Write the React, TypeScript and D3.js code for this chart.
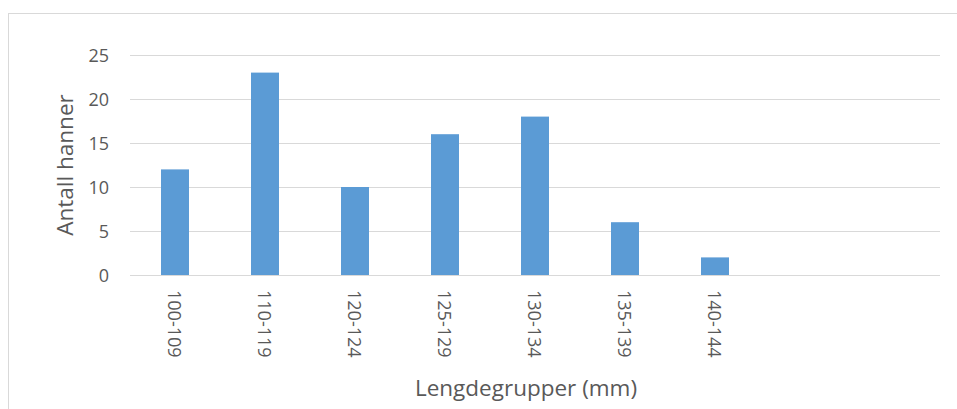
import React from "react";
import * as d3 from "d3";

const categories: string[] = ["100-109", "110-119", "120-124", "125-129", "130-134", "135-139", "140-144", "", ""];
const values: (number | null)[] = [12, 23, 10, 16, 18, 6, 2, null, null];
const yTicks: number[] = [0, 5, 10, 15, 20, 25];
const yTitle = "Antall hanner";
const xTitle = "Lengdegrupper (mm)";

const W = 957;
const H = 409;
const FONT = "'Open Sans', sans-serif";
const TEXT = "#595959";
const GRID = "#D9D9D9";
const BAR = "#5B9BD5";

export default function App() {
  const left = 130, right = 940, top = 55, bottom = 275;
  const pad = 62 / 90;
  const x = d3
    .scaleBand<number>()
    .domain(d3.range(categories.length))
    .range([left, right])
    .paddingInner(pad)
    .paddingOuter(pad / 2);
  const y = d3.scaleLinear().domain([0, 25]).range([bottom, top]);

  return (
    <svg
      width={W}
      height={H}
      style={{ position: "absolute", left: 0, top: 0, background: "#fff" }}
      fontFamily={FONT}
    >
      <rect x={8.5} y={13.5} width={970} height={420} fill="#fff" stroke={GRID} strokeWidth={1} />
      {yTicks.map((t) => (
        <g key={t}>
          <line x1={left} x2={right} y1={Math.round(y(t)) + 0.5} y2={Math.round(y(t)) + 0.5} stroke={GRID} strokeWidth={1} />
          <text x={109} y={y(t)} textAnchor="end" dominantBaseline="central" fontSize={18} fill={TEXT}>
            {t}
          </text>
        </g>
      ))}
      {values.map((v, i) =>
        v == null ? null : (
          <rect
            key={i}
            x={x(i)!}
            y={y(v)}
            width={x.bandwidth()}
            height={y(0) - y(v)}
            fill={BAR}
          />
        )
      )}
      {categories.map((c, i) => {
        const cx = x(i)! + x.bandwidth() / 2;
        return (
          <text
            key={i}
            transform={`translate(${cx},290) rotate(90)`}
            textAnchor="start"
            dominantBaseline="central"
            fontSize={18}
            fill={TEXT}
          >
            {c}
          </text>
        );
      })}
      <text
        transform={`translate(64,${(top + bottom) / 2}) rotate(-90)`}
        textAnchor="middle"
        dominantBaseline="central"
        fontSize={22.5}
        fill={TEXT}
      >
        {yTitle}
      </text>
      <text x={526} y={396} textAnchor="middle" fontSize={22.5} fill={TEXT}>
        {xTitle}
      </text>
    </svg>
  );
}
